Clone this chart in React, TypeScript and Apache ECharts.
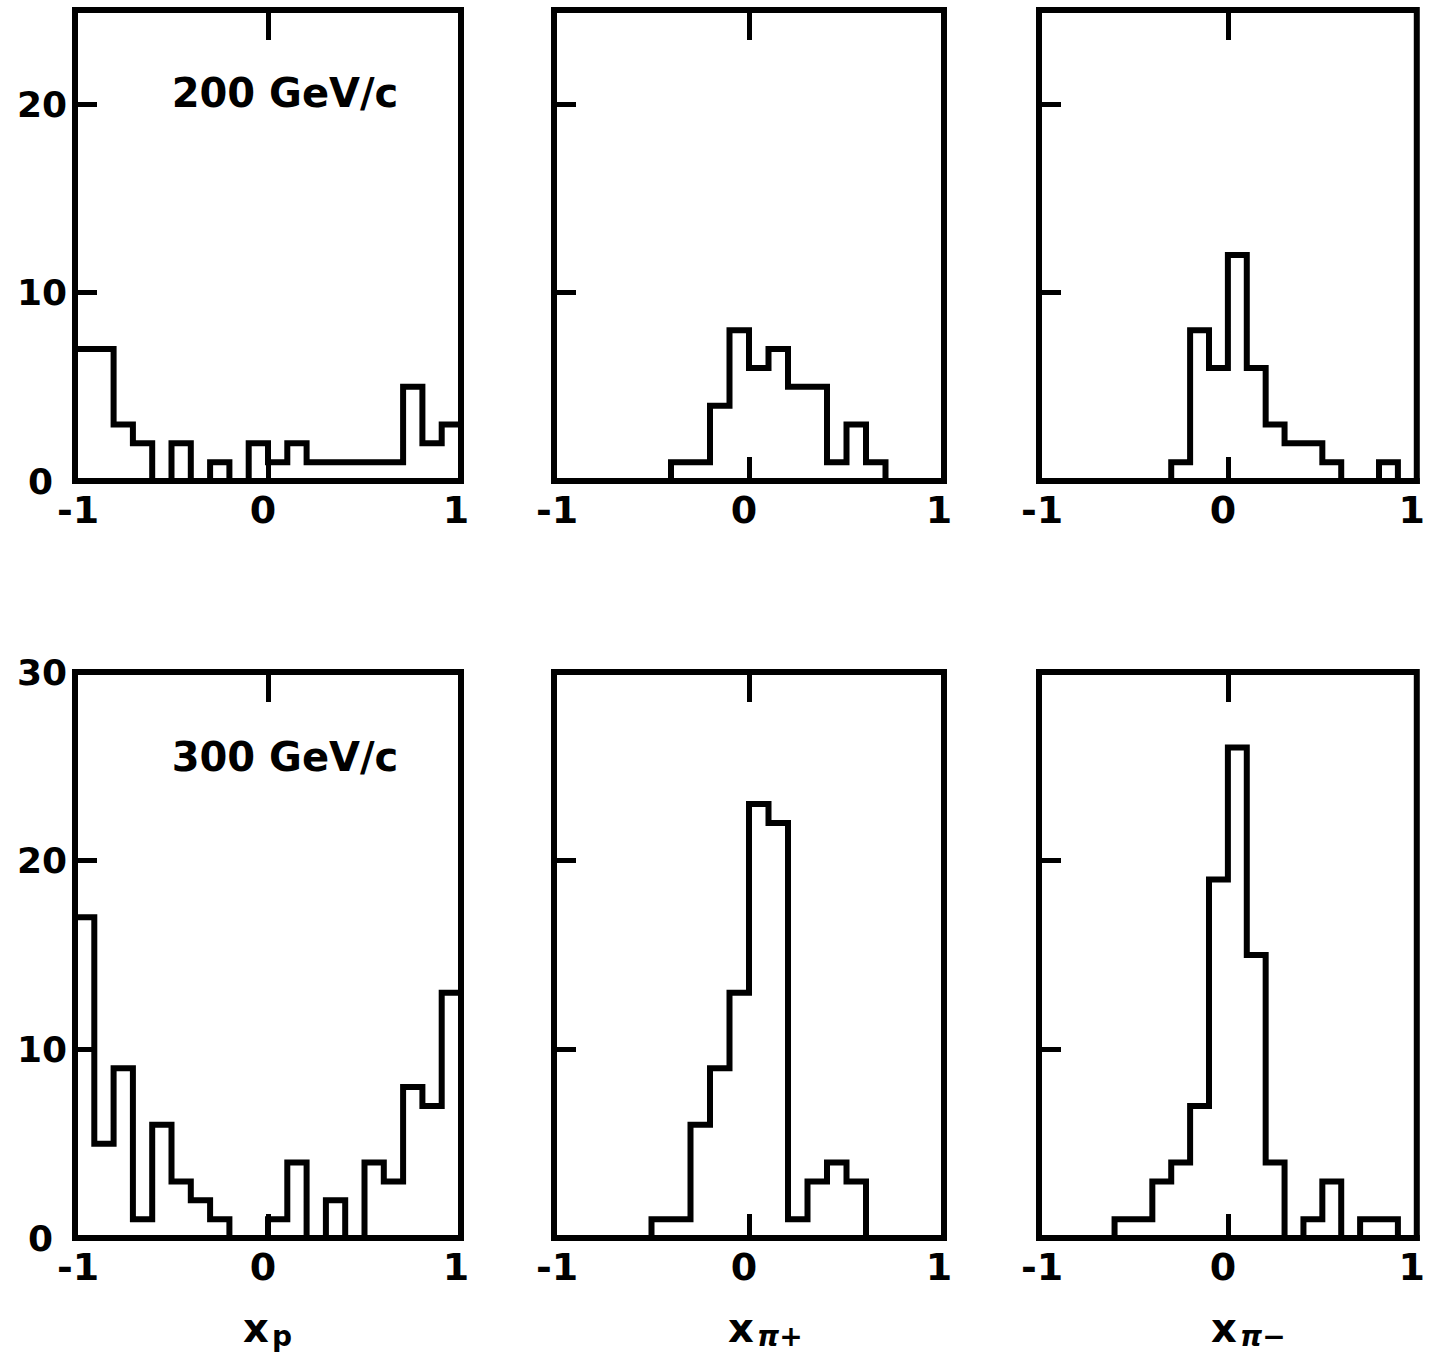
import React, { useEffect, useRef } from 'react';
import * as echarts from 'echarts';

// Bin edges of the histograms (width 0.1, from -1 to 1)
const binEdges = [-1.0, -0.9, -0.8, -0.7, -0.6, -0.5, -0.4, -0.3, -0.2, -0.1, 0.0, 0.1, 0.2, 0.3, 0.4, 0.5, 0.6, 0.7, 0.8, 0.9, 1.0];

// Counts per bin
const xp200 = [7, 7, 3, 2, 0, 2, 0, 1, 0, 2, 1, 2, 1, 1, 1, 1, 1, 5, 2, 3];
const xpiPlus200 = [0, 0, 0, 0, 0, 0, 1, 1, 4, 8, 6, 7, 5, 5, 1, 3, 1, 0, 0, 0];
const xpiMinus200 = [0, 0, 0, 0, 0, 0, 0, 1, 8, 6, 12, 6, 3, 2, 2, 1, 0, 0, 1, 0];
const xp300 = [17, 5, 9, 1, 6, 3, 2, 1, 0, 0, 1, 4, 0, 2, 0, 4, 3, 8, 7, 13];
const xpiPlus300 = [0, 0, 0, 0, 0, 1, 1, 6, 9, 13, 23, 22, 1, 3, 4, 3, 0, 0, 0, 0];
const xpiMinus300 = [0, 0, 0, 0, 1, 1, 3, 4, 7, 19, 26, 15, 4, 0, 1, 3, 0, 1, 1, 0];

// Tick labels
const xTickLabels = [-1, 0, 1];
const xInnerTicks = [0];
const yInnerTicks = [10, 20];
const yLabelsTop = [0, 10, 20];
const yLabelsBottom = [0, 10, 20, 30];
const yMaxTop = 25;
const yMaxBottom = 30;
const momentumLabels = ['200 GeV/c', '300 GeV/c'];
const variableMain = ['x', 'x', 'x'];
const variableSub = ['p', 'π+', 'π−'];

const panels = [xp200, xpiPlus200, xpiMinus200, xp300, xpiPlus300, xpiMinus300];

// Layout
const cols = [
  { left: 75, width: 386 },
  { left: 554, width: 390 },
  { left: 1039, width: 383 },
];
const rows = [
  { top: 10, height: 471 },
  { top: 672, height: 566 },
];

function outline(values: number[]): number[][] {
  const pts: number[][] = [[binEdges[0], 0]];
  values.forEach((v, i) => {
    pts.push([binEdges[i], v]);
    pts.push([binEdges[i + 1], v]);
  });
  pts.push([binEdges[binEdges.length - 1], 0]);
  return pts;
}

export default function App() {
  const ref = useRef<HTMLDivElement>(null);
  useEffect(() => {
    const chart = echarts.init(ref.current as HTMLDivElement, null, { renderer: 'svg' });
    const font = 'DejaVu Sans';
    const tickStyle = { color: '#000', width: 5 };
    const labelStyle = { fontSize: 36, fontWeight: 'bold' as const, fontFamily: font, color: '#000' };
    const xRichBase = { fontSize: 38, fontWeight: 'bold' as const, fontFamily: font, color: '#000', lineHeight: 26 };
    const grids: any[] = [];
    const xAxes: any[] = [];
    const yAxes: any[] = [];
    const series: any[] = [];
    panels.forEach((vals, idx) => {
      const r = Math.floor(idx / 3);
      const c = idx % 3;
      grids.push({
        left: cols[c].left,
        width: cols[c].width,
        top: rows[r].top,
        height: rows[r].height,
        show: true,
        borderColor: '#000',
        borderWidth: 6,
        backgroundColor: 'rgba(0,0,0,0)',
      });
      xAxes.push({
        type: 'value',
        gridIndex: idx,
        position: 'bottom',
        min: -1,
        max: 1,
        interval: 1,
        splitLine: { show: false },
        axisLine: { show: false, onZero: false },
        axisTick: { show: true, inside: true, length: 24, customValues: xInnerTicks, lineStyle: tickStyle },
        axisLabel: {
          show: true,
          customValues: xTickLabels,
          margin: 16,
          lineHeight: 26,
          ...labelStyle,
          fontSize: 38,
          formatter: (v: number) => (v === -1 ? '{m|-1}' : '{a|' + v + '}'),
          rich: {
            m: { ...xRichBase, padding: [0, 0, 0, 6] },
            a: { ...xRichBase, padding: [0, 10, 0, 0] },
          },
        },
      });
      xAxes.push({
        type: 'value',
        gridIndex: idx,
        position: 'top',
        min: -1,
        max: 1,
        interval: 1,
        splitLine: { show: false },
        axisLine: { show: false, onZero: false },
        axisTick: { show: true, inside: true, length: 30, customValues: xInnerTicks, lineStyle: tickStyle },
        axisLabel: { show: false },
      });
      yAxes.push({
        type: 'value',
        gridIndex: idx,
        position: 'left',
        min: 0,
        max: r === 0 ? yMaxTop : yMaxBottom,
        interval: 10,
        splitLine: { show: false },
        axisLine: { show: false, onZero: false },
        axisTick: { show: true, inside: true, length: 22, customValues: yInnerTicks, lineStyle: tickStyle },
        axisLabel: {
          show: c === 0,
          customValues: r === 0 ? yLabelsTop : yLabelsBottom,
          margin: 8,
          lineHeight: 26,
          ...labelStyle,
          formatter: (v: number) => (v === 0 ? '{z|0}' : String(v)),
          rich: { z: { fontSize: 36, fontWeight: 'bold', fontFamily: font, color: '#000', lineHeight: 26, padding: [0, 14, 0, 0] } },
        },
      });
      series.push({
        type: 'line',
        xAxisIndex: idx * 2,
        yAxisIndex: idx,
        data: outline(vals),
        symbol: 'none',
        showSymbol: false,
        silent: true,
        lineStyle: { color: '#000', width: 6, join: 'miter', cap: 'square' },
      });
    });

    const graphics: any[] = [];
    momentumLabels.forEach((t, r) => {
      graphics.push({
        type: 'text',
        x: 285,
        y: r === 0 ? 93 : 757,
        style: { text: t, fontSize: 40, fontWeight: 'bold', fontFamily: font, fill: '#000', align: 'center', verticalAlign: 'middle' },
      });
    });
    const nameX = [256, 741, 1224];
    variableMain.forEach((m, c) => {
      graphics.push({
        type: 'text',
        x: nameX[c],
        y: 1328,
        style: { text: m, fontSize: 40, fontWeight: 'bold', fontFamily: font, fill: '#000', align: 'center', verticalAlign: 'middle' },
      });
      graphics.push({
        type: 'text',
        x: nameX[c] + 16,
        y: 1336,
        style: { text: variableSub[c], fontSize: 28, fontWeight: 'bold', fontStyle: c === 0 ? 'normal' : 'italic', fontFamily: font, fill: '#000', align: 'left', verticalAlign: 'middle' },
      });
    });

    chart.setOption({
      animation: false,
      backgroundColor: '#fff',
      grid: grids,
      xAxis: xAxes,
      yAxis: yAxes,
      series,
      graphic: graphics,
    });
    return () => chart.dispose();
  }, []);
  return <div ref={ref} style={{ position: 'absolute', left: 0, top: 0, width: 1438, height: 1357 }} />;
}
